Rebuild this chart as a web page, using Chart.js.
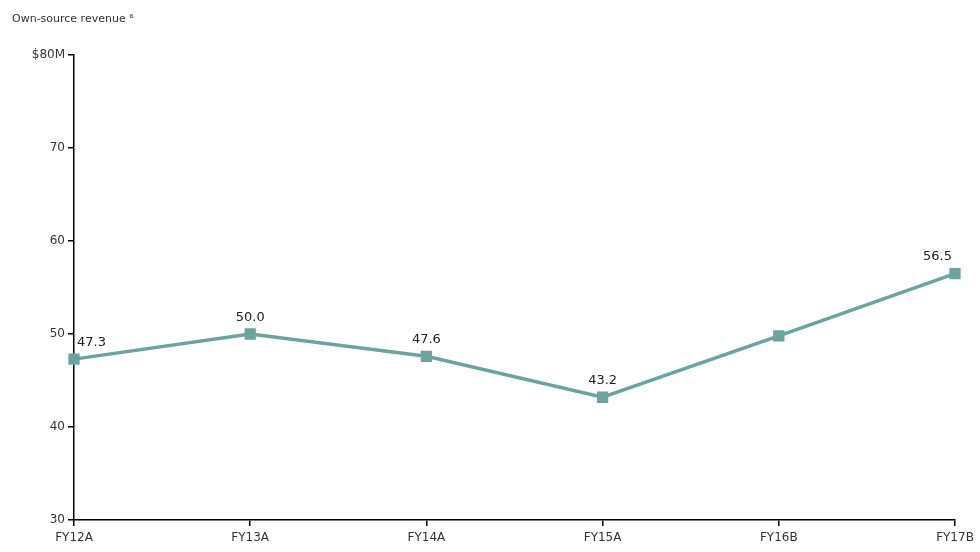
<!DOCTYPE html>
<html><head><meta charset="utf-8">
<script src="https://cdn.jsdelivr.net/npm/chart.js@4"></script>
<style>html,body{margin:0;padding:0;background:#fff}#wrap{width:980px;height:552px;position:relative}</style>
</head><body><div id="wrap"><canvas id="c" width="980" height="552"></canvas></div>
<script>
const categories = ["FY12A","FY13A","FY14A","FY15A","FY16B","FY17B"];
const revenue = [47.3, 50.0, 47.6, 43.2, 49.8, 56.5];
const pointLabels = ["47.3","50.0","47.6","43.2",null,"56.5"];
const yTicks = [30,40,50,60,70,80];
const titleText = "Own-source revenue \u2076";

const FONT = "'DejaVu Sans', Verdana, sans-serif";

const labelPlugin = {
  id:'labels',
  afterDatasetsDraw(chart){
    const ctx = chart.ctx;
    const meta = chart.getDatasetMeta(0);
    ctx.save();
    ctx.font = "13px " + FONT;
    ctx.fillStyle = "#222";
    ctx.textBaseline = "bottom";
    meta.data.forEach((p,i)=>{
      const t = pointLabels[i];
      if(!t) return;
      let x = p.x;
      ctx.textAlign = "center";
      if(i===0){ ctx.textAlign = "left"; x += 3; }
      if(i===meta.data.length-1){ ctx.textAlign = "right"; x -= 3; }
      ctx.fillText(t, x, p.y - 10);
    });
    ctx.restore();
  }
};
const titlePlugin = {
  id:'ttl',
  afterDraw(chart){
    const ctx = chart.ctx;
    ctx.save();
    ctx.font = "11px " + FONT;
    ctx.fillStyle = "#333";
    ctx.textAlign = "left";
    ctx.textBaseline = "middle";
    ctx.fillText(titleText, 12, 19);
    ctx.restore();
  }
};

new Chart(document.getElementById('c'), {
  type:'line',
  data:{labels:categories, datasets:[{
    data:revenue, borderColor:'#6aa3a0', backgroundColor:'#6aa3a0',
    borderWidth:3.5, pointStyle:'rect', pointRadius:5.5, pointHoverRadius:5.5,
    tension:0, clip:false
  }]},
  options:{
    responsive:false, animation:false,
    layout:{padding:{top:55,right:25,bottom:0,left:0}},
    plugins:{legend:{display:false}, tooltip:{enabled:false}},
    scales:{
      x:{
        offset:false,
        grid:{drawOnChartArea:false, drawTicks:true, tickLength:6, color:'#000', lineWidth:1.5},
        border:{color:'#000', width:1.5},
        ticks:{color:'#333', font:{family:FONT, size:12}, padding:5, maxRotation:0, autoSkip:false},
        afterFit(s){ s.height = 32; }
      },
      y:{
        min:30, max:80,
        afterBuildTicks(s){ s.ticks = yTicks.map(v=>({value:v})); },
        grid:{drawOnChartArea:false, drawTicks:true, tickLength:6, color:'#000', lineWidth:1.5},
        border:{color:'#000', width:1.5},
        ticks:{color:'#333', font:{family:FONT, size:12}, padding:3,
          callback:(v)=> v===80 ? '$80M' : String(v)},
        afterFit(s){ s.width = 74; }
      }
    }
  },
  plugins:[labelPlugin,titlePlugin]
});
</script></body></html>
